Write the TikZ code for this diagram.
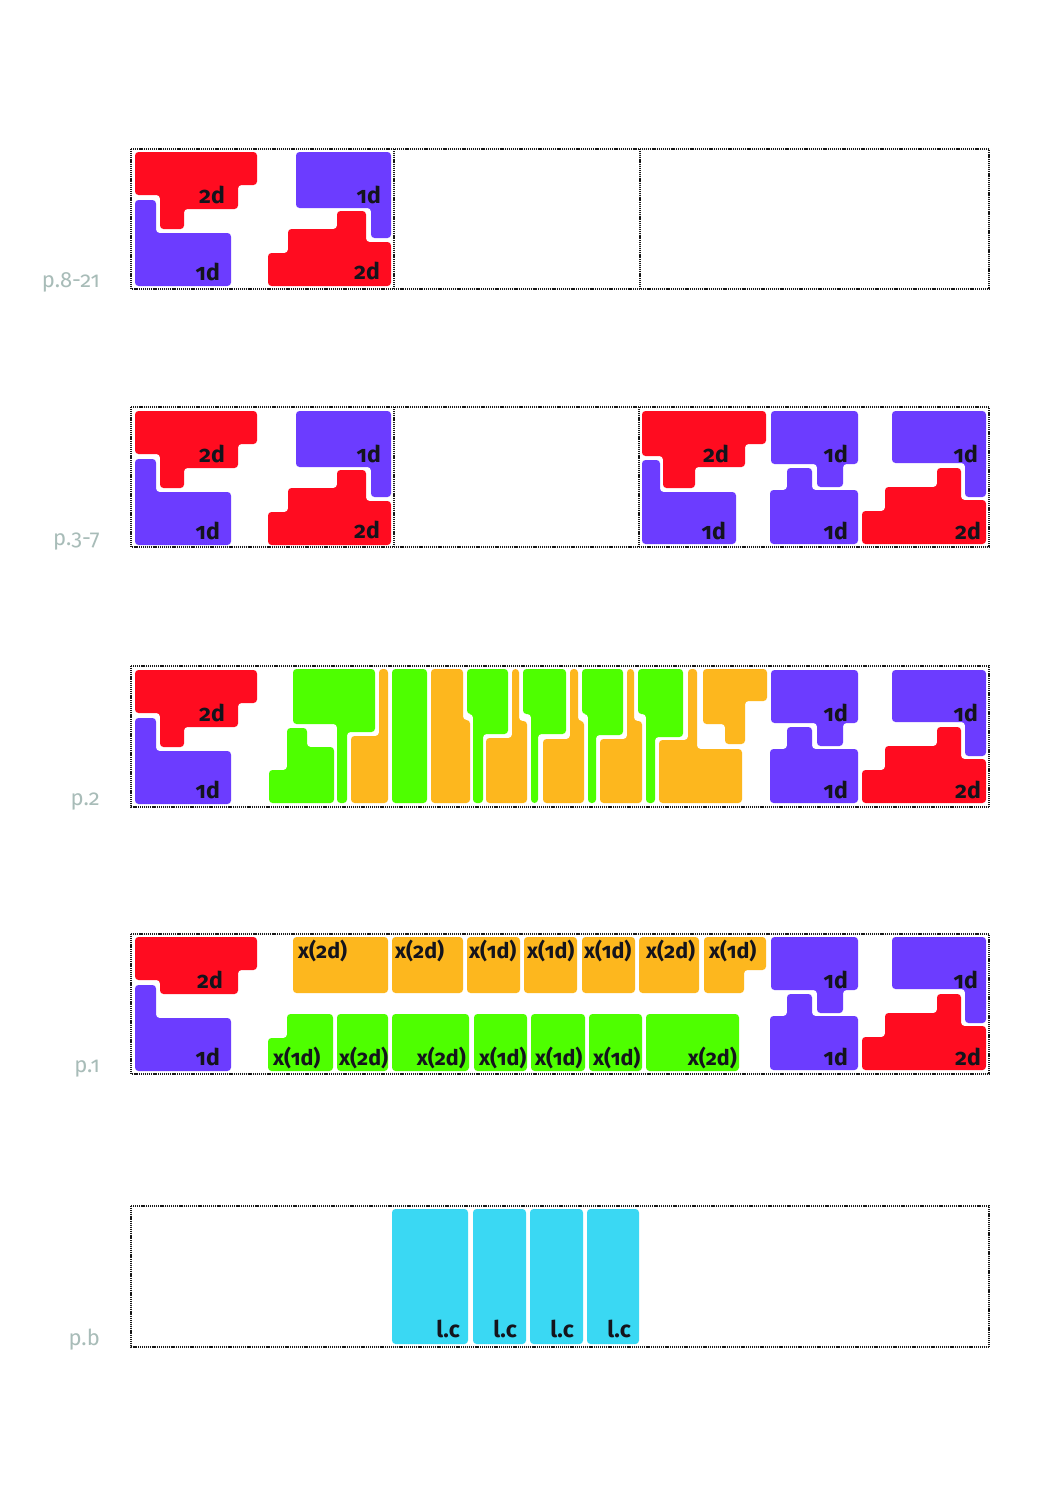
\documentclass[tikz,border=0pt]{standalone}
\usepackage{fontspec}
\setmainfont{Fira Sans}[Numbers=OldStyle]
\definecolor{cred}{RGB}{255,12,32}
\definecolor{cblue}{RGB}{108,60,255}
\definecolor{cgreen}{RGB}{78,255,0}
\definecolor{corange}{RGB}{253,183,30}
\definecolor{ccyan}{RGB}{58,216,243}
\definecolor{cgrey}{RGB}{168,188,184}
\definecolor{cink}{RGB}{20,20,28}
\tikzset{
  piece/.style={rounded corners=3.5pt},
  lbl/.style={font=\fontsize{23}{23}\selectfont\bfseries, text=cink, inner sep=0pt},
  xlbl/.style={font=\fontsize{21.5}{21.5}\selectfont\bfseries, text=cink, inner sep=0pt},
  flr/.style={font=\fontsize{22}{22}\selectfont, text=cgrey, inner sep=0pt, anchor=base east},
  framebox/.style={draw=black!90, line width=1.8pt, dash pattern=on 1.1pt off 0.8pt},
}
% left pair, floor-1 coordinates
\newcommand\RedTLlong[1]{%
  \fill[cred,piece] (135,152) -- (257,152) -- (257,185) -- (238,185) -- (238,209) -- (184,209) -- (184,229) -- (160,229) -- (160,195) -- (135,195) -- cycle;
  \node[lbl,anchor=base east] (#1rtl) at (225,203) {2d};}
\newcommand\RedTLshort[1]{%
  \fill[cred,piece] (135,152) -- (257,152) -- (257,185) -- (238,185) -- (238,209) -- (160,209) -- (160,195) -- (135,195) -- cycle;
  \node[lbl,anchor=base east] (#1rtl) at (223,203) {2d};}
\newcommand\BlueBL[1]{%
  \fill[cblue,piece] (135,200) -- (156,200) -- (156,233) -- (231,233) -- (231,286) -- (135,286) -- cycle;
  \node[lbl,anchor=base east] (#1bbl) at (220,280) {1d};}
\newcommand\LeftRight[1]{%
  \fill[cblue,piece] (296,152) -- (391,152) -- (391,238) -- (371,238) -- (371,208) -- (296,208) -- cycle;
  \node[lbl,anchor=base east] (#1btr) at (381,203) {1d};
  \fill[cred,piece] (268,286) -- (268,253) -- (288,253) -- (288,229) -- (337,229) -- (337,211) -- (366,211) -- (366,242) -- (391,242) -- (391,286) -- cycle;
  \node[lbl,anchor=base east] (#1rbr) at (380,279) {2d};}
% right group, floor-2 coordinates
\newcommand\RightPair[1]{%
  \fill[cred,piece] (642,411) -- (766,411) -- (766,444) -- (745,444) -- (745,467) -- (695,467) -- (695,488) -- (663,488) -- (663,456) -- (642,456) -- cycle;
  \node[lbl,anchor=base east] (#1a) at (729,462) {2d};
  \fill[cblue,piece] (642,460) -- (660,460) -- (660,492) -- (736,492) -- (736,544) -- (642,544) -- cycle;
  \node[lbl,anchor=base east] (#1b) at (726,539) {1d};}
\newcommand\RightRest[1]{%
  \fill[cblue,piece] (771,411) -- (858,411) -- (858,464) -- (843,464) -- (843,487) -- (817,487) -- (817,464) -- (771,464) -- cycle;
  \node[lbl,anchor=base east] (#1c) at (848,462) {1d};
  \fill[cblue,piece] (770,490) -- (787,490) -- (787,468) -- (812,468) -- (812,490) -- (858,490) -- (858,544) -- (770,544) -- cycle;
  \node[lbl,anchor=base east] (#1d) at (848,539) {1d};
  \fill[cblue,piece] (892,411) -- (986,411) -- (986,497) -- (965,497) -- (965,463) -- (892,463) -- cycle;
  \node[lbl,anchor=base east] (#1e) at (978,462) {1d};
  \fill[cred,piece] (862,544) -- (862,511) -- (885,511) -- (885,487) -- (937,487) -- (937,468) -- (961,468) -- (961,500) -- (986,500) -- (986,544) -- cycle;
  \node[lbl,anchor=base east] (#1f) at (981,539) {2d};}
\begin{document}
\begin{tikzpicture}[x=1pt,y=-1pt]
\useasboundingbox[fill=white] (0,0) rectangle (1061,1500);

% ---------- floor p.8-21 ----------
\draw[framebox] (131,149) rectangle (989,289);
\draw[framebox] (394,149) -- (394,289);
\draw[framebox] (640,149) -- (640,289);
\RedTLlong{fa}\BlueBL{fa}\LeftRight{fa}
\node[flr] (L1) at (100,287) {p.8-21};

% ---------- floor p.3-7 ----------
\draw[framebox] (131,407) rectangle (989,547);
\draw[framebox] (394,407) -- (394,547);
\draw[framebox] (639,407) -- (639,547);
\begin{scope}[shift={(0,259)}]
\RedTLlong{fb}\BlueBL{fb}\LeftRight{fb}
\end{scope}
\RightPair{fbp}\RightRest{fbr}
\node[flr] (L2) at (100,545) {p.3-7};

% ---------- floor p.2 ----------
\draw[framebox] (131,666) rectangle (989,807);
\begin{scope}[shift={(0,518)}]
\RedTLlong{fc}\BlueBL{fc}
\end{scope}
\begin{scope}[shift={(0,259)}]
\RightRest{fcr}
\end{scope}
\fill[cgreen,piece] (293,669) -- (375,669) -- (375,732) -- (347,732) -- (347,803) -- (337,803) -- (337,724) -- (293,724) -- cycle;
\fill[corange,piece] (379,669) -- (388,669) -- (388,803) -- (351,803) -- (351,736) -- (379,736) -- cycle;
\fill[cgreen,piece] (269,803) -- (269,770) -- (287,770) -- (287,728) -- (307,728) -- (307,747) -- (334,747) -- (334,803) -- cycle;
\fill[cgreen,piece] (392,669) rectangle (427,803);
\fill[corange,piece] (431,669) -- (463,669) -- (463,720) -- (470,720) -- (470,803) -- (431,803) -- cycle;
\fill[cgreen,piece] (467,669) -- (508,669) -- (508,734) -- (483,734) -- (483,803) -- (473,803) -- (473,714) -- (467,714) -- cycle;
\fill[corange,piece] (512,669) -- (519,669) -- (519,721) -- (527,721) -- (527,803) -- (486,803) -- (486,738) -- (512,738) -- cycle;
\fill[cgreen,piece] (523,669) -- (566,669) -- (566,734) -- (538,734) -- (538,803) -- (531,803) -- (531,714) -- (523,714) -- cycle;
\fill[corange,piece] (570,669) -- (578,669) -- (578,721) -- (584,721) -- (584,803) -- (543,803) -- (543,739) -- (570,739) -- cycle;
\fill[cgreen,piece] (582,669) -- (623,669) -- (623,735) -- (596,735) -- (596,803) -- (588,803) -- (588,714) -- (582,714) -- cycle;
\fill[corange,piece] (627,669) -- (634,669) -- (634,721) -- (642,721) -- (642,803) -- (600,803) -- (600,739) -- (627,739) -- cycle;
\fill[cgreen,piece] (638,669) -- (683,669) -- (683,737) -- (655,737) -- (655,803) -- (646,803) -- (646,714) -- (638,714) -- cycle;
\fill[corange,piece] (688,669) -- (697,669) -- (697,749) -- (742,749) -- (742,803) -- (659,803) -- (659,740) -- (688,740) -- cycle;
\fill[corange,piece] (703,669) -- (767,669) -- (767,701) -- (745,701) -- (745,744) -- (725,744) -- (725,724) -- (703,724) -- cycle;
\node[flr] (L3) at (100,805) {p.2};

% ---------- floor p.1 ----------
\draw[framebox] (131,934) rectangle (989,1074);
\begin{scope}[shift={(0,785)}]
\RedTLshort{fd}\BlueBL{fd}
\end{scope}
\begin{scope}[shift={(0,526)}]
\RightRest{fdr}
\end{scope}
\fill[corange,piece] (293,937) rectangle (388,993);
\fill[corange,piece] (392,937) rectangle (463,993);
\fill[corange,piece] (467,937) rectangle (520,993);
\fill[corange,piece] (524,937) rectangle (577,993);
\fill[corange,piece] (582,937) rectangle (635,993);
\fill[corange,piece] (639,937) rectangle (699,993);
\fill[corange,piece] (704,937) -- (766,937) -- (766,970) -- (744,970) -- (744,993) -- (704,993) -- cycle;
\node[xlbl,anchor=base west] (o1) at (298,958) {x(2d)};
\node[xlbl,anchor=base west] (o2) at (395,958) {x(2d)};
\node[xlbl,anchor=base west] (o3) at (469,958) {x(1d)};
\node[xlbl,anchor=base west] (o4) at (527,958) {x(1d)};
\node[xlbl,anchor=base west] (o5) at (584,958) {x(1d)};
\node[xlbl,anchor=base west] (o6) at (646,958) {x(2d)};
\node[xlbl,anchor=base west] (o7) at (709,958) {x(1d)};
\fill[cgreen,piece] (268,1071) -- (268,1038) -- (287,1038) -- (287,1014) -- (333,1014) -- (333,1071) -- cycle;
\fill[cgreen,piece] (337,1014) rectangle (388,1071);
\fill[cgreen,piece] (392,1014) rectangle (469,1071);
\fill[cgreen,piece] (474,1014) rectangle (527,1071);
\fill[cgreen,piece] (531,1014) rectangle (585,1071);
\fill[cgreen,piece] (589,1014) rectangle (642,1071);
\fill[cgreen,piece] (646,1014) rectangle (739,1071);
\node[xlbl,anchor=base west] (g1) at (273,1065) {x(1d)};
\node[xlbl,anchor=base west] (g2) at (339,1065) {x(2d)};
\node[xlbl,anchor=base east] (g3) at (466,1065) {x(2d)};
\node[xlbl,anchor=base west] (g4) at (479,1065) {x(1d)};
\node[xlbl,anchor=base west] (g5) at (535,1065) {x(1d)};
\node[xlbl,anchor=base west] (g6) at (593,1065) {x(1d)};
\node[xlbl,anchor=base east] (g7) at (737,1065) {x(2d)};
\node[flr] (L4) at (100,1072) {p.1};

% ---------- floor p.b ----------
\draw[framebox] (131,1206) rectangle (989,1347);
\fill[ccyan,piece] (392,1209) rectangle (468,1344);
\fill[ccyan,piece] (473,1209) rectangle (526,1344);
\fill[ccyan,piece] (530,1209) rectangle (583,1344);
\fill[ccyan,piece] (587,1209) rectangle (639,1344);
\node[lbl,anchor=base east] (c1) at (460,1337) {l.c};
\node[lbl,anchor=base east] (c2) at (517,1337) {l.c};
\node[lbl,anchor=base east] (c3) at (574,1337) {l.c};
\node[lbl,anchor=base east] (c4) at (631,1337) {l.c};
\node[flr] (L5) at (100,1345) {p.b};
\end{tikzpicture}
\end{document}
